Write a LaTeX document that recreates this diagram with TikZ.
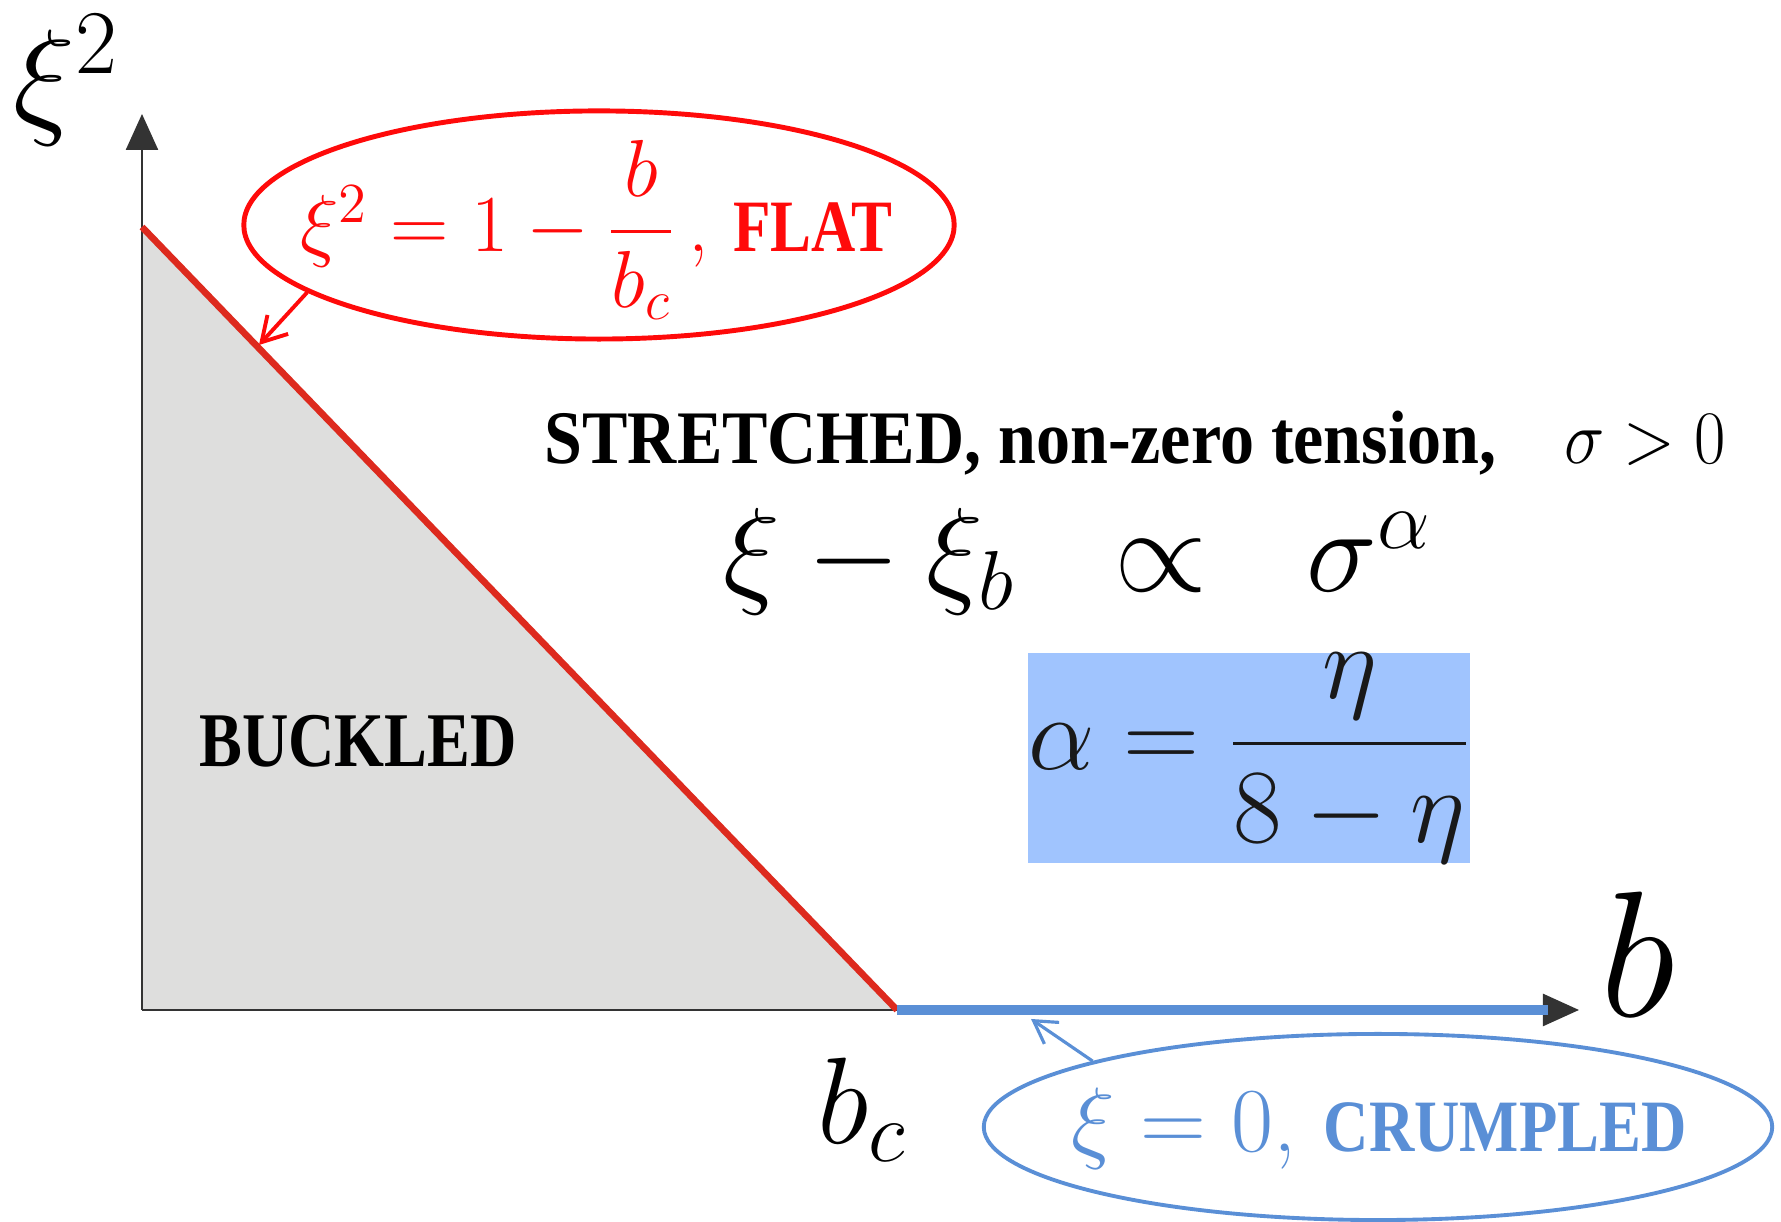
\RequirePackage{fix-cm}
\documentclass[tikz,border=0pt]{standalone}
\usepackage{amsmath}
\usepackage{fontspec}
\newfontfamily\phasefont{Liberation Serif}
\usepackage{graphicx}
\usepackage{xcolor}
\definecolor{flatred}{HTML}{FF0A0A}
\definecolor{linered}{HTML}{DD2A1E}
\definecolor{crumpblue}{HTML}{5A8FD6}
\definecolor{boxblue}{HTML}{A0C4FE}
\definecolor{buckgray}{HTML}{DEDEDD}
\definecolor{axisgray}{HTML}{333333}
\usetikzlibrary{arrows.meta,shapes.geometric}
\newcommand{\phasetext}[3][0.83]{\scalebox{#1}[1]{\fontsize{#2}{#2}\selectfont\phasefont\bfseries #3}}
\tikzset{
  axisline/.style={draw=axisgray,line width=0.7pt,-{Triangle[length=3.6mm,width=3.2mm]}},
  flatline/.style={draw=linered,line width=1.9pt},
  crumpline/.style={draw=crumpblue,line width=2.6pt},
  flatoval/.style={draw=flatred,ellipse,line width=1.4pt,minimum width=7.1cm,minimum height=2.28cm,inner sep=0pt},
  crumpoval/.style={draw=crumpblue,ellipse,line width=1.1pt,minimum width=7.88cm,minimum height=1.86cm,inner sep=0pt},
  flattext/.style={text=flatred,inner sep=0pt,font=\fontsize{23}{25}\selectfont},
  crumptext/.style={text=crumpblue,inner sep=0pt,font=\fontsize{26}{28}\selectfont},
  flatarrow/.style={-{Straight Barb[length=2.4mm,width=2.8mm]},line width=1.1pt,flatred},
  crumparrow/.style={-{Straight Barb[length=2.2mm,width=2.6mm]},line width=0.9pt,crumpblue},
  alphabox/.style={fill=boxblue,minimum width=4.39cm,minimum height=2.06cm,inner sep=0pt,text=black!90,font=\fontsize{30}{32}\selectfont},
  axislabel/.style={inner sep=0pt}
}
\begin{document}
\begin{tikzpicture}[x=0.01cm,y=0.01cm]
\useasboundingbox (0,0) rectangle (1781,1222);
\coordinate (o) at (142,212);
\coordinate (ytop) at (142,1108);
\coordinate (xend) at (1579,212);
\coordinate (yflat) at (142,995);
\coordinate (bc) at (897,212);
\coordinate (xbase) at (1548,212);
\coordinate (flatpt) at (259,877);
\coordinate (crumppt) at (1031,203);
% buckled region and axes
\fill[buckgray] (o) -- (yflat) -- (bc) -- cycle;
\draw[axisline] (o) -- (ytop);
\draw[axisline] (o) -- (xend);
\draw[flatline] (yflat) -- (bc);
\draw[crumpline] (bc) -- (xbase);
% axis labels
\node[axislabel,font=\fontsize{37}{40}\selectfont] (xilabel) at (66,1142) {$\xi^2$};
\node[axislabel,font=\fontsize{51}{54}\selectfont] (blabel) at (1638,268) {$b$};
\node[axislabel,font=\fontsize{35}{38}\selectfont] (bclabel) at (862,112) {$b_c$};
% phases
\node (buckled) at (358,481) {\phasetext{22}{BUCKLED}};
\node (stretched) at (1135,779) {\phasetext[0.9]{21.5}{STRETCHED, non-zero tension,\quad$\sigma > 0$}};
\node[font=\fontsize{34}{36}\selectfont] (law) at (1078,660) {$\xi - \xi_b \;\;\propto\;\; \sigma^{\alpha}$};
\node[alphabox] (alpha) at (1249,464) {$\alpha = \dfrac{\eta}{8-\eta}$};
% flat line
\node[flatoval] (flatring) at (599,997) {};
\node[flattext] (flat) at (596,992) {$\xi^2 = 1 - \dfrac{b}{b_c}$\,, \phasetext{21}{FLAT}};
\draw[flatarrow] (flatring.193) -- (flatpt);
% crumpled line
\node[crumpoval] (crumpring) at (1378,95) {};
\node[crumptext] (crump) at (1379,93) {$\xi = 0$, \phasetext[0.85]{21}{CRUMPLED}};
\draw[crumparrow] (crumpring.167) -- (crumppt);
\end{tikzpicture}
\end{document}
